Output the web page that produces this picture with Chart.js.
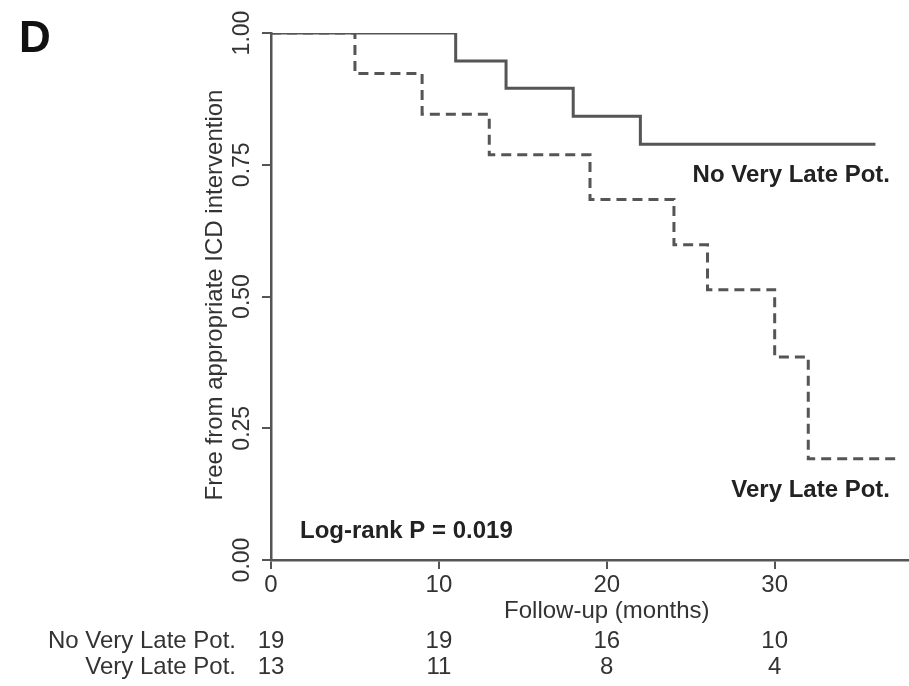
<!DOCTYPE html>
<html>
<head>
<meta charset="utf-8">
<script src="https://cdn.jsdelivr.net/npm/chart.js@4.4.1/dist/chart.umd.min.js"></script>
<style>
  html, body { margin: 0; padding: 0; background: #fff; }
  #wrap { width: 909px; height: 686px; position: relative; }
</style>
</head>
<body>
<div id="wrap"><canvas id="km"></canvas></div>
<script>
// Kaplan-Meier steps (months, survival)
const noVltTimes = [0, 11, 14, 18, 22, 36];
const noVltSurv  = [1.0, 0.947, 0.895, 0.842, 0.789, 0.789];
const vltTimes = [0, 5, 9, 13, 19, 24, 26, 30, 32, 37.5];
const vltSurv  = [1.0, 0.923, 0.846, 0.769, 0.684, 0.598, 0.513, 0.385, 0.192, 0.192];

const yTicks = [0, 0.25, 0.5, 0.75, 1.0];
const xTicks = [0, 10, 20, 30];
const riskGroups = ['No Very Late Pot.', 'Very Late Pot.'];
const riskNoVlt = [19, 19, 16, 10];
const riskVlt = [13, 11, 8, 4];

const LINE = '#555';
const TXT = '#333';
const FONT = '"Liberation Sans", Arial, sans-serif';

function pts(xs, ys) {
  return xs.map((x, i) => ({ x: x, y: ys[i] }));
}

// extra text: y tick labels, titles, labels, risk table
const textPlugin = {
  id: 'kmText',
  afterDraw(chart) {
    const ctx = chart.ctx;
    const xs = chart.scales.x, ys = chart.scales.y;
    ctx.save();
    ctx.fillStyle = TXT;
    ctx.textAlign = 'center';
    ctx.textBaseline = 'middle';

    // rotated y tick labels
    ctx.font = '23px ' + FONT;
    yTicks.forEach(v => {
      ctx.save();
      ctx.translate(243, ys.getPixelForValue(v));
      ctx.rotate(-Math.PI / 2);
      ctx.fillText(v.toFixed(2), 0, 0);
      ctx.restore();
    });

    // y title
    ctx.font = '24px ' + FONT;
    ctx.save();
    ctx.translate(215, 295);
    ctx.rotate(-Math.PI / 2);
    ctx.fillText('Free from appropriate ICD intervention', 0, 0);
    ctx.restore();

    // x title
    ctx.fillText('Follow-up (months)', xs.getPixelForValue(20), 611);

    // panel letter
    ctx.fillStyle = '#111';
    ctx.font = 'bold 44px ' + FONT;
    ctx.textAlign = 'left';
    ctx.fillText('D', 19, 40);

    // curve labels
    ctx.fillStyle = '#222';
    ctx.font = 'bold 24px ' + FONT;
    ctx.textAlign = 'right';
    ctx.fillText('No Very Late Pot.', 890, 175);
    ctx.fillText('Very Late Pot.', 890, 490);
    ctx.textAlign = 'left';
    ctx.fillText('Log-rank P = 0.019', 300, 531);

    // numbers at risk
    ctx.fillStyle = TXT;
    ctx.font = '24px ' + FONT;
    ctx.textAlign = 'right';
    ctx.fillText(riskGroups[0], 236, 641);
    ctx.fillText(riskGroups[1], 236, 667);
    ctx.textAlign = 'center';
    xTicks.forEach((t, i) => {
      const px = xs.getPixelForValue(t);
      ctx.fillText(String(riskNoVlt[i]), px, 641);
      ctx.fillText(String(riskVlt[i]), px, 667);
    });
    ctx.restore();
  }
};

new Chart(document.getElementById('km'), {
  type: 'scatter',
  data: {
    datasets: [
      {
        label: 'No Very Late Pot.',
        data: pts(noVltTimes, noVltSurv),
        showLine: true,
        stepped: true,
        borderColor: LINE,
        borderWidth: 3,
        pointRadius: 0,
        fill: false
      },
      {
        label: 'Very Late Pot.',
        data: pts(vltTimes, vltSurv),
        showLine: true,
        stepped: true,
        borderColor: LINE,
        borderWidth: 3,
        borderDash: [10, 6],
        pointRadius: 0,
        fill: false
      }
    ]
  },
  options: {
    responsive: true,
    maintainAspectRatio: false,
    animation: false,
    layout: { padding: { top: 33, right: 0, left: 0, bottom: 0 } },
    plugins: {
      legend: { display: false },
      tooltip: { enabled: false }
    },
    scales: {
      x: {
        type: 'linear',
        min: 0,
        max: 38,
        afterFit(scale) { scale.height = 126; },
        afterBuildTicks(scale) { scale.ticks = xTicks.map(v => ({ value: v })); },
        border: { display: true, color: LINE, width: 2.5 },
        grid: { drawOnChartArea: false, drawTicks: true, tickLength: 9, color: LINE, lineWidth: 2 },
        ticks: {
          color: TXT,
          font: { family: FONT, size: 24 },
          padding: 2,
          maxRotation: 0,
          includeBounds: false
        }
      },
      y: {
        type: 'linear',
        min: 0,
        max: 1,
        afterFit(scale) { scale.width = 271; },
        afterBuildTicks(scale) { scale.ticks = yTicks.map(v => ({ value: v })); },
        border: { display: true, color: LINE, width: 2.5 },
        grid: { drawOnChartArea: false, drawTicks: true, tickLength: 9, color: LINE, lineWidth: 2 },
        ticks: { display: false }
      }
    }
  },
  plugins: [textPlugin]
});
</script>
</body>
</html>
